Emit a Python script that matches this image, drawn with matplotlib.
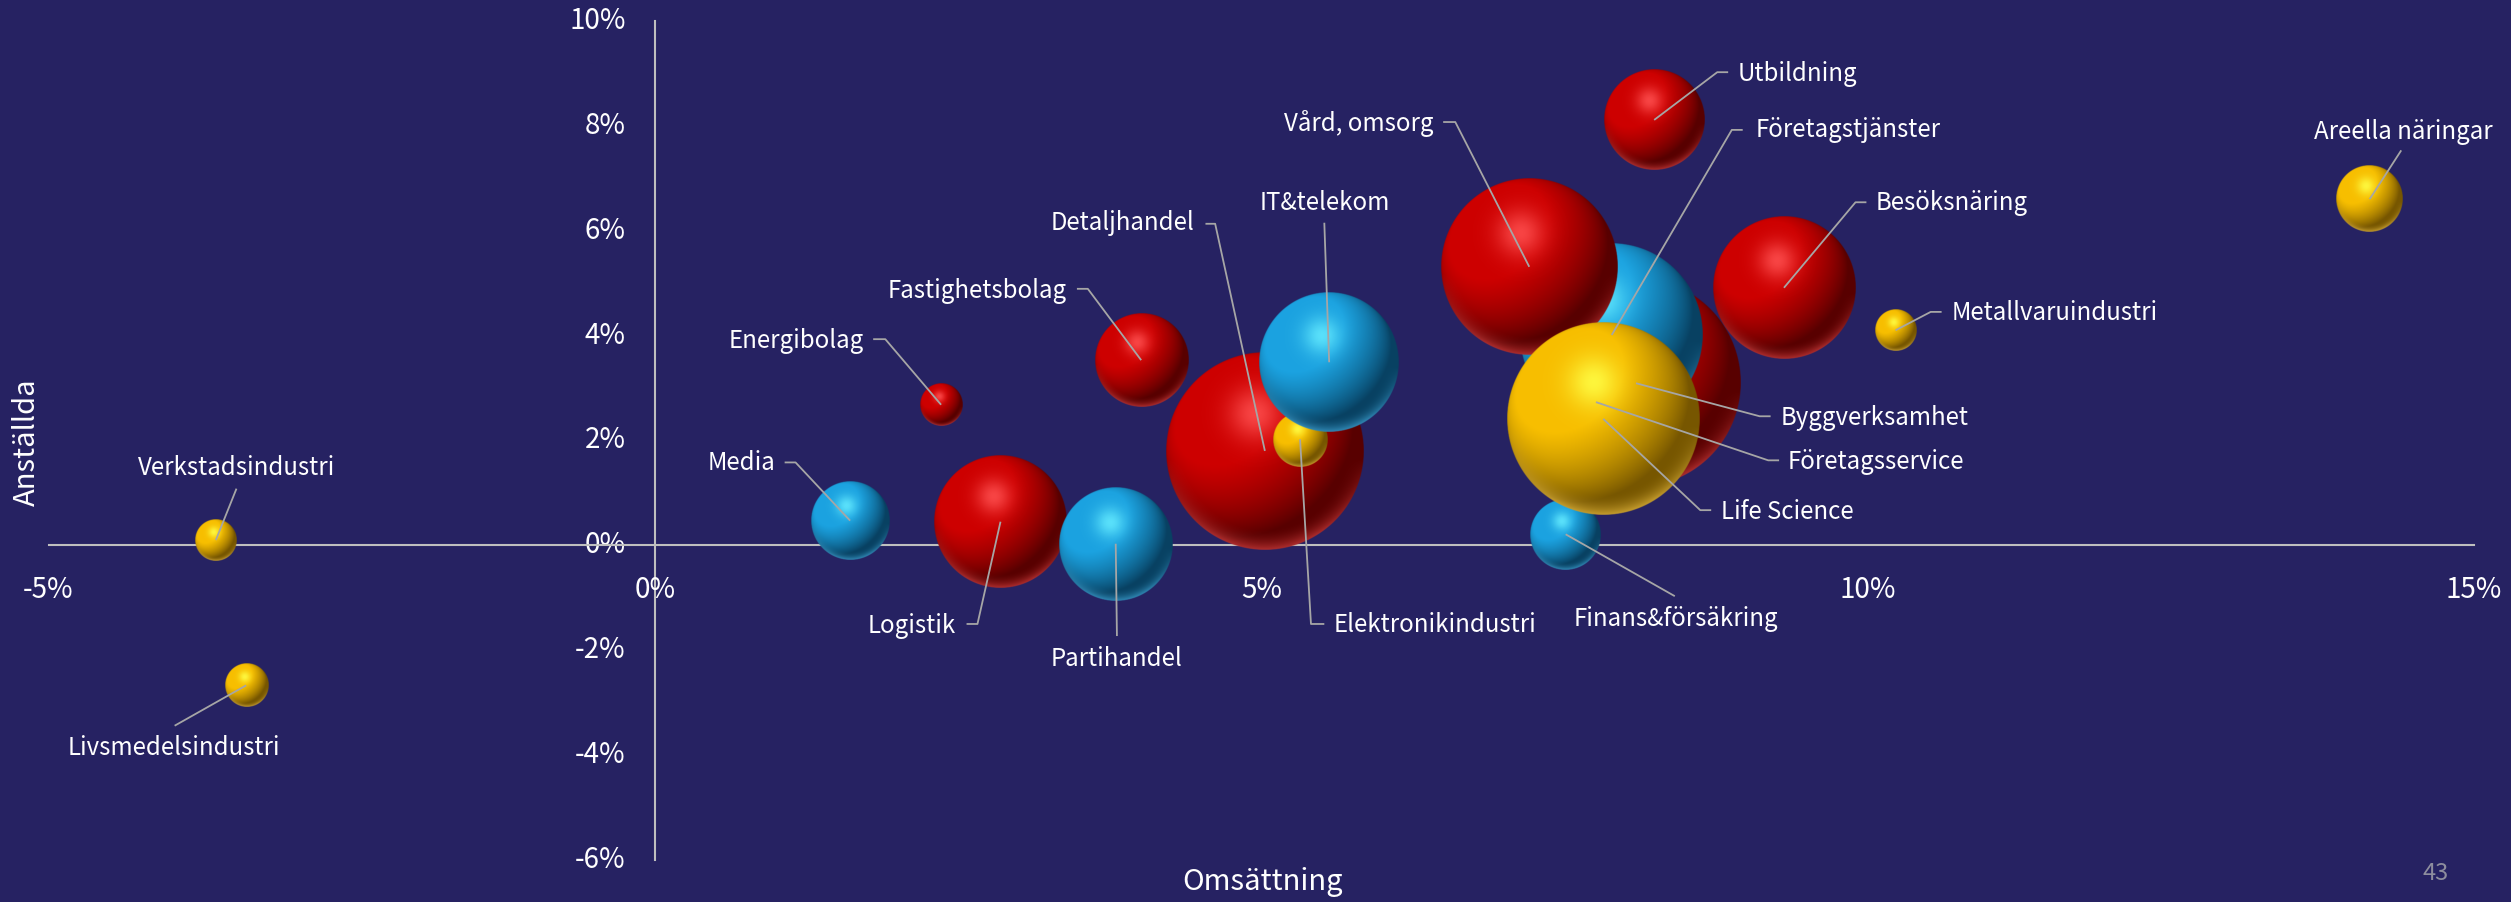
import numpy as np
import matplotlib
matplotlib.use("Agg")
import matplotlib.pyplot as plt

# ---------------- data ----------------
branscher = ["Verkstadsindustri", "Livsmedelsindustri", "Media", "Energibolag",
             "Fastighetsbolag", "Logistik", "Partihandel", "Detaljhandel",
             "IT&telekom", "Elektronikindustri", "Vård, omsorg", "Utbildning",
             "Företagstjänster", "Byggverksamhet", "Företagsservice", "Life Science",
             "Finans&försäkring", "Besöksnäring", "Metallvaruindustri", "Areella näringar"]
omsattning = [-3.62, -3.37, 1.61, 2.36, 4.01, 2.85, 3.80, 5.03, 5.56, 5.32,
              7.21, 8.24, 7.89, 8.09, 7.76, 7.82, 7.51, 9.31, 10.23, 14.14]
anstallda = [0.10, -2.67, 0.47, 2.68, 3.53, 0.45, 0.03, 1.80, 3.49, 2.02,
             5.31, 8.11, 4.01, 3.09, 2.73, 2.41, 0.21, 4.91, 4.10, 6.60]
storlek = [1.66, 1.82, 6.0, 1.77, 8.47, 17.1, 12.6, 38.1, 19.0, 2.89,
           30.3, 9.9, 32.5, 42.3, 16.0, 36.2, 4.84, 19.8, 1.69, 4.33]
grupp = ["gul", "gul", "blå", "röd", "röd", "röd", "blå", "röd", "blå", "gul",
         "röd", "röd", "blå", "röd", "röd", "gul", "blå", "röd", "gul", "gul"]

xticks = [-5, 0, 5, 10, 15]
xticklabels = ["-5%", "0%", "5%", "10%", "15%"]
yticks = [-6, -4, -2, 0, 2, 4, 6, 8, 10]
yticklabels = ["-6%", "-4%", "-2%", "0%", "2%", "4%", "6%", "8%", "10%"]
xtitel = "Omsättning"
ytitel = "Anställda"
sidnummer = "43"

# ---------------- layout (label positions, leader kinks, draw order) ----------------
etiketter = {
    "Verkstadsindustri": (-3.45, 1.47, "center", [(-3.45, 1.08)]),
    "Livsmedelsindustri": (-3.97, -3.87, "center", [(-3.96, -3.44)]),
    "Media": (0.99, 1.56, "right", [(1.07, 1.58), (1.16, 1.58)]),
    "Energibolag": (1.72, 3.90, "right", [(1.80, 3.93), (1.90, 3.93)]),
    "Fastighetsbolag": (3.40, 4.85, "right", [(3.48, 4.89), (3.57, 4.89)]),
    "Detaljhandel": (4.45, 6.15, "right", [(4.54, 6.13), (4.62, 6.13)]),
    "IT&telekom": (5.52, 6.53, "center", [(5.52, 6.15)]),
    "Vård, omsorg": (6.42, 8.04, "right", [(6.50, 8.07), (6.60, 8.07)]),
    "Utbildning": (8.93, 8.99, "left", [(8.85, 9.02), (8.76, 9.02)]),
    "Företagstjänster": (9.08, 7.92, "left", [(8.97, 7.92), (8.88, 7.92)]),
    "Besöksnäring": (10.07, 6.53, "left", [(9.99, 6.54), (9.90, 6.54)]),
    "Metallvaruindustri": (10.69, 4.42, "left", [(10.61, 4.45), (10.52, 4.45)]),
    "Areella näringar": (14.42, 7.88, "center", [(14.40, 7.53)]),
    "Byggverksamhet": (9.28, 2.43, "left", [(9.20, 2.46), (9.11, 2.46)]),
    "Företagsservice": (9.34, 1.59, "left", [(9.27, 1.62), (9.18, 1.62)]),
    "Life Science": (8.79, 0.64, "left", [(8.71, 0.67), (8.62, 0.67)]),
    "Finans&försäkring": (8.42, -1.40, "center", [(8.41, -0.97)]),
    "Logistik": (2.48, -1.53, "right", [(2.57, -1.50), (2.66, -1.50)]),
    "Partihandel": (3.81, -2.16, "center", [(3.81, -1.73)]),
    "Elektronikindustri": (5.60, -1.52, "left", [(5.52, -1.50), (5.41, -1.50)]),
}
ritordning = ["Verkstadsindustri", "Livsmedelsindustri", "Media", "Energibolag",
              "Fastighetsbolag", "Logistik", "Partihandel", "Detaljhandel",
              "Elektronikindustri", "IT&telekom", "Byggverksamhet", "Företagsservice",
              "Finans&försäkring", "Företagstjänster", "Vård, omsorg", "Life Science",
              "Utbildning", "Besöksnäring", "Metallvaruindustri", "Areella näringar"]

farger = {
    "röd": dict(base=(205, 0, 0), light=(255, 80, 80), dark=(75, 0, 0), rim=(220, 70, 70)),
    "blå": dict(base=(27, 162, 224), light=(100, 235, 255), dark=(6, 55, 85), rim=(70, 175, 225)),
    "gul": dict(base=(247, 190, 0), light=(255, 255, 70), dark=(105, 75, 0), rim=(240, 195, 70)),
}

BG = "#262262"
FONT = ["Noto Sans CJK SC", "DejaVu Sans"]
plt.rcParams["font.family"] = FONT

W, H, DPI = 2511, 902, 100
fig = plt.figure(figsize=(W / DPI, H / DPI), dpi=DPI, facecolor=BG)
ax = fig.add_axes([48.5 / W, (H - 860) / H, (2474 - 48.5) / W, (860 - 20.8) / H])
ax.set_facecolor(BG)
ax.set_xlim(-5, 15)
ax.set_ylim(-6, 10)

for s in ["top", "right"]:
    ax.spines[s].set_visible(False)
ax.spines["left"].set_position(("data", 0))
ax.spines["bottom"].set_position(("data", 0))
for s in ["left", "bottom"]:
    ax.spines[s].set_color("#BFBFBF")
    ax.spines[s].set_linewidth(1.5)
    ax.spines[s].set_zorder(1)
ax.set_xticks([])
ax.set_yticks([])

# tick labels
for t, lab in zip(xticks, xticklabels):
    ax.annotate(lab, (t, 0), xytext=(0, -32), textcoords="offset points",
                ha="center", va="center", color="white", fontsize=20, zorder=60,
                annotation_clip=False)
for t, lab in zip(yticks, yticklabels):
    ax.annotate(lab, (0, t), xytext=(-21, 0), textcoords="offset points",
                ha="right", va="center", color="white", fontsize=20, zorder=0.5,
                annotation_clip=False)

# pixel scale of data units
p0 = ax.transData.transform((0, 0))
p1 = ax.transData.transform((1, 1))
px_x = (p1[0] - p0[0])
px_y = (p1[1] - p0[1])


def sphere(col, n):
    yy, xx = np.mgrid[-1:1:n * 1j, -1:1:n * 1j]
    v = -yy
    x = xx
    rr = np.sqrt(x ** 2 + v ** 2)
    nz = np.sqrt(np.clip(1 - rr ** 2, 0, 1))
    L = np.array([-0.45, 0.5, 0.74])
    L = L / np.linalg.norm(L)
    diff = np.clip(x * L[0] + v * L[1] + nz * L[2], 0, 1)
    base = np.array(col["base"]) / 255.0
    light = np.array(col["light"]) / 255.0
    dark = np.array(col["dark"]) / 255.0
    rim = np.array(col["rim"]) / 255.0
    t = np.clip(0.1 + 1.15 * diff, 0, 1)[..., None]
    img = dark + (base - dark) * t
    d2 = (x - (-0.1)) ** 2 + (v - 0.38) ** 2
    spot = np.exp(-d2 / 0.07)[..., None]
    img = img + (light - img) * spot * 0.85
    rimw = (np.clip((rr - 0.78) / 0.22, 0, 1) ** 2 * np.clip(-v * 1.3 - 0.1, 0, 1))[..., None]
    img = img + (rim - img) * rimw * 0.65
    alpha = np.clip((1 - rr) * n / 3.0 + 0.5, 0, 1)
    rgba = np.dstack([np.clip(img, 0, 1), alpha])
    return rgba


idx = {b: i for i, b in enumerate(branscher)}
for z, namn in enumerate(ritordning):
    i = idx[namn]
    r_px = 16.01 * np.sqrt(storlek[i])
    n = max(80, int(4 * r_px))
    img = sphere(farger[grupp[i]], n)
    dx = r_px / px_x
    dy = r_px / px_y
    cx, cy = omsattning[i], anstallda[i]
    ax.imshow(img, extent=(cx - dx, cx + dx, cy - dy, cy + dy), origin="upper",
              interpolation="antialiased", zorder=5 + z, aspect="auto")

ax.set_xlim(-5, 15)
ax.set_ylim(-6, 10)
ax.set_aspect("auto")

# labels with leader lines
for namn, (tx, ty, ha, kinks) in etiketter.items():
    i = idx[namn]
    pts = kinks + [(omsattning[i], anstallda[i])]
    ax.plot([p[0] for p in pts], [p[1] for p in pts], color="#A6A6A6", lw=1.3,
            zorder=50, solid_capstyle="butt")
    ax.text(tx, ty, namn, ha=ha, va="center", color="white", fontsize=17.3, zorder=51)

fig.text(1262 / W, 1 - 882 / H, xtitel, ha="center", va="center", color="white", fontsize=21)
fig.text(27 / W, 1 - 442 / H, ytitel, ha="center", va="center", rotation=90,
         color="white", fontsize=21)
fig.text(2436 / W, 1 - 874 / H, sidnummer, ha="center", va="center", color="#8E8E9E",
         fontsize=17)

fig.savefig("out.png", dpi=DPI, facecolor=BG)
